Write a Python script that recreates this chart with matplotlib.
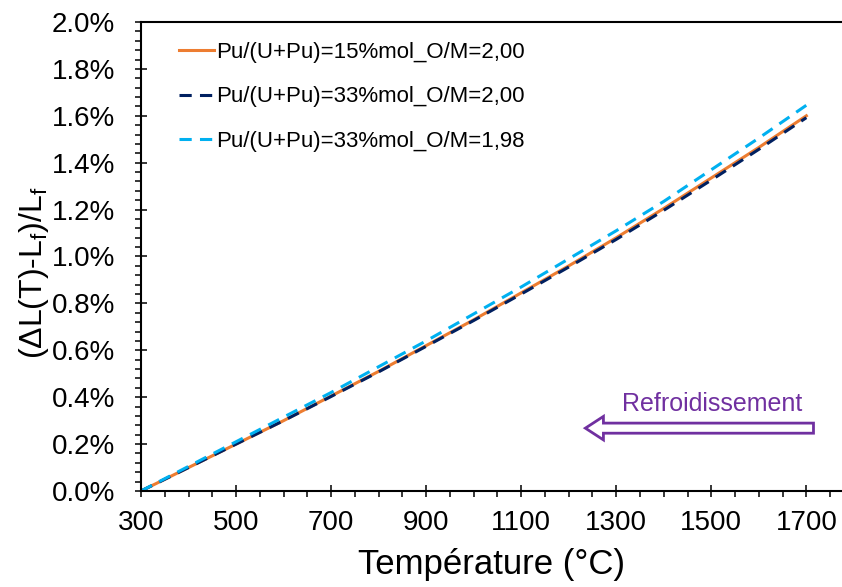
import numpy as np
import matplotlib
matplotlib.use('Agg')
import matplotlib.pyplot as plt
from matplotlib.ticker import MultipleLocator, FormatStrFormatter
from matplotlib.patches import FancyArrow

plt.rcParams['font.family'] = ['Liberation Sans', 'DejaVu Sans']
plt.rcParams['mathtext.fontset'] = 'custom'
plt.rcParams['mathtext.rm'] = 'Liberation Sans'
plt.rcParams['mathtext.it'] = 'Liberation Sans'

# temperature (°C) and relative length change (%)
temp = [300, 400, 500, 600, 700, 800, 900, 1000, 1100, 1200, 1300, 1400, 1500, 1600, 1700]
dl_15_200 = [0.0, 0.10, 0.20, 0.30, 0.405, 0.51, 0.62, 0.73, 0.845, 0.96, 1.08, 1.205, 1.335, 1.465, 1.60]
dl_33_200 = [0.0, 0.10, 0.20, 0.30, 0.403, 0.508, 0.617, 0.727, 0.84, 0.955, 1.073, 1.197, 1.326, 1.457, 1.592]
dl_33_198 = [0.0, 0.105, 0.21, 0.315, 0.42, 0.53, 0.64, 0.755, 0.87, 0.99, 1.11, 1.235, 1.37, 1.505, 1.645]

labels = ['Pu/(U+Pu)=15%mol_O/M=2,00',
          'Pu/(U+Pu)=33%mol_O/M=2,00',
          'Pu/(U+Pu)=33%mol_O/M=1,98']
colors = ['#ED7D31', '#002060', '#00B0F0']
xticks = [300, 500, 700, 900, 1100, 1300, 1500, 1700]

fig = plt.figure(figsize=(8.42, 5.87), dpi=100)
ax = fig.add_axes([141 / 842, 96 / 587, 701 / 842, 469 / 587])

ax.plot(temp, dl_15_200, color=colors[0], lw=2.2, label=labels[0])
ax.plot(temp, dl_33_200, color=colors[1], lw=2.2, ls=(0, (4, 2.7)), label=labels[1])
ax.plot(temp, dl_33_198, color=colors[2], lw=2.2, ls=(0, (4, 2.7)), label=labels[2])

ax.set_xlim(300, 1775)
ax.set_ylim(0, 2.0)
ax.set_xticks(xticks)
ax.xaxis.set_minor_locator(MultipleLocator(50))
ax.yaxis.set_major_locator(MultipleLocator(0.2))
ax.yaxis.set_minor_locator(MultipleLocator(0.04))
ax.yaxis.set_major_formatter(FormatStrFormatter('%.1f%%'))

ax.spines['right'].set_visible(False)
for s in ['left', 'bottom', 'top']:
    ax.spines[s].set_linewidth(1.5)

ax.tick_params(which='major', direction='inout', length=9, width=1.1)
ax.tick_params(which='minor', direction='out', length=4.5, width=1.1)
ax.tick_params(axis='x', which='major', labelsize=20, pad=9)
ax.tick_params(axis='y', which='major', labelsize=20, pad=14)

ax.set_xlabel('Température (°C)', fontsize=25, labelpad=9)
ax.set_ylabel(r'($\Delta$L(T)-L$_\mathrm{f}$)/L$_\mathrm{f}$', fontsize=23)
ax.yaxis.set_label_coords(-0.128, 0.465)

ax.legend(loc='upper left', frameon=False, fontsize=16, handlelength=1.6,
          handletextpad=0.1, labelspacing=1.05, borderaxespad=0.5,
          bbox_to_anchor=(0.025, 1.0))

# cooling direction arrow
arr = FancyArrow(1715, 0.268, -480, 0, width=0.043, head_width=0.10,
                 head_length=38, length_includes_head=True,
                 fc='white', ec='#7030A0', lw=2)
ax.add_patch(arr)
ax.text(1502, 0.37, 'Refroidissement', color='#7030A0', fontsize=18,
        ha='center', va='center')

fig.savefig('out.png', dpi=100)
